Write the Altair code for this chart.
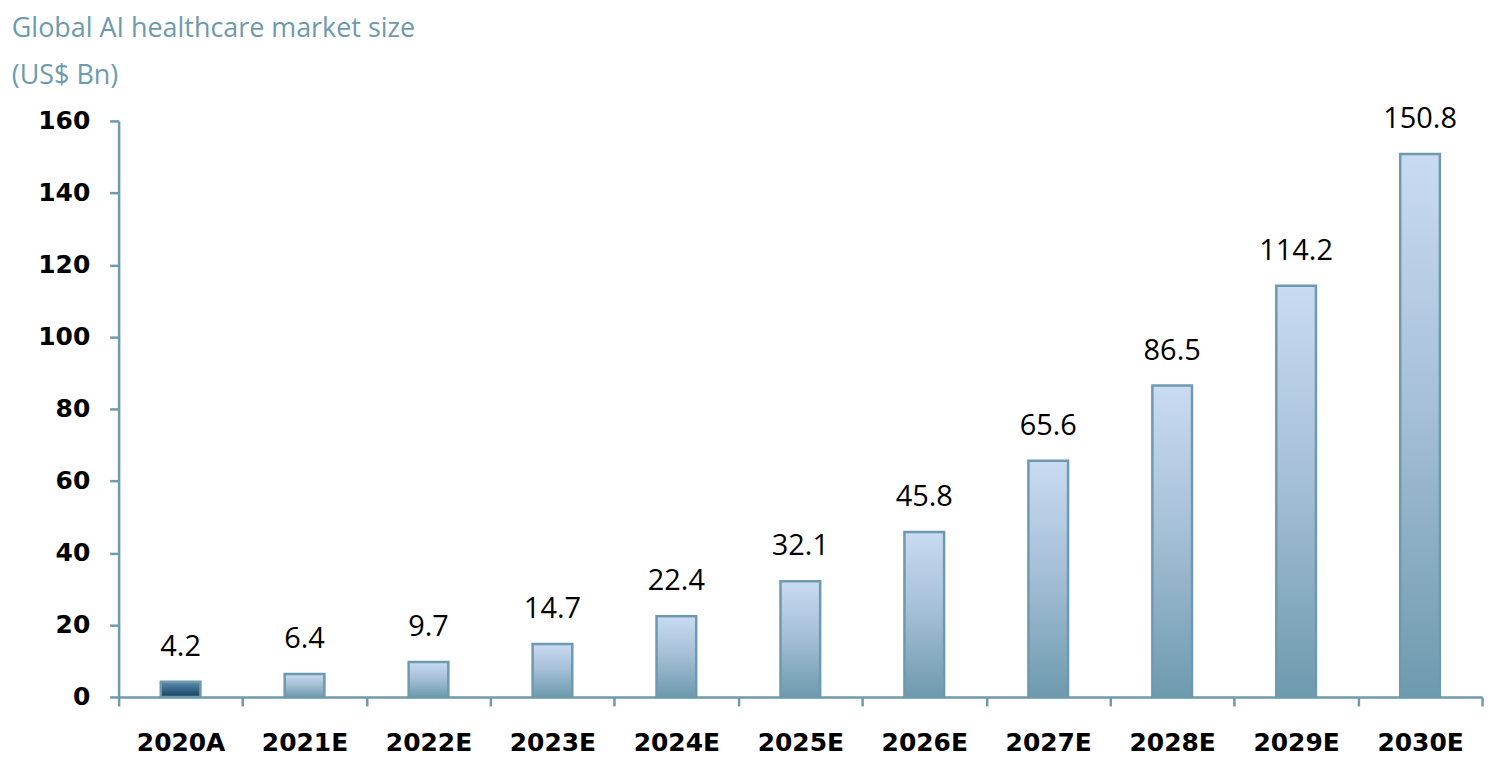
import altair as alt
import pandas as pd

years = ["2020A", "2021E", "2022E", "2023E", "2024E", "2025E",
         "2026E", "2027E", "2028E", "2029E", "2030E"]
values = [4.2, 6.4, 9.7, 14.7, 22.4, 32.1, 45.8, 65.6, 86.5, 114.2, 150.8]
kinds = ["actual"] + ["estimate"] * 10
labels = ["4.2", "6.4", "9.7", "14.7", "22.4", "32.1", "45.8", "65.6", "86.5", "114.2", "150.8"]

df = pd.DataFrame({"year": years, "value": values, "kind": kinds, "label": labels})

AXIS_COLOR = "#6e9aae"

x = alt.X("year:N", sort=years, title=None,
          scale=alt.Scale(paddingInner=0, paddingOuter=0),
          axis=alt.Axis(labelAngle=0, labelFont="DejaVu Sans", labelFontWeight="bold",
                        labelFontSize=25, labelColor="#000000", labelPadding=25,
                        domainColor=AXIS_COLOR, domainWidth=2.5,
                        tickColor=AXIS_COLOR, tickWidth=2.5, tickSize=9,
                        tickBand="extent"))
y = alt.Y("value:Q", title=None,
          scale=alt.Scale(domain=[0, 160], nice=False),
          axis=alt.Axis(values=list(range(0, 161, 20)), grid=False,
                        labelFont="DejaVu Sans", labelFontWeight="bold",
                        labelFontSize=25, labelColor="#000000", labelPadding=20,
                        domainColor=AXIS_COLOR, domainWidth=2.5,
                        tickColor=AXIS_COLOR, tickWidth=2.5, tickSize=9))

est_grad = alt.LinearGradient(gradient="linear", x1=0, y1=0, x2=0, y2=1,
                              stops=[alt.GradientStop(color="#c9dbf2", offset=0),
                                     alt.GradientStop(color="#a7c1d8", offset=0.45),
                                     alt.GradientStop(color="#6e9aae", offset=1)])
act_grad = alt.LinearGradient(gradient="linear", x1=0, y1=0, x2=0, y2=1,
                              stops=[alt.GradientStop(color="#5a8db0", offset=0),
                                     alt.GradientStop(color="#173f63", offset=1)])

base = alt.Chart(df).encode(x=x, y=y)

bars_est = base.transform_filter(alt.datum.kind == "estimate").mark_bar(
    width=alt.RelativeBandSize(0.32), fill=est_grad, stroke=AXIS_COLOR, strokeWidth=2.5)
bars_act = base.transform_filter(alt.datum.kind == "actual").mark_bar(
    width=alt.RelativeBandSize(0.32), fill=act_grad, stroke=AXIS_COLOR, strokeWidth=2.5)

text = base.mark_text(font="Open Sans", fontSize=29, color="#000000",
                      baseline="middle", dy=-35).encode(text="label:N")

chart = alt.layer(bars_est, bars_act, text).properties(
    width=1368, height=578,
    autosize=alt.AutoSizeParams(type="none"),
    padding={"left": 111, "top": 112, "right": 10, "bottom": 60},
    title=alt.TitleParams(text="Global AI healthcare market size",
                          subtitle="(US$ Bn)",
                          anchor="start", frame="bounds",
                          font="Open Sans", fontSize=27, fontWeight="normal",
                          color="#6d9aae",
                          subtitleFont="Open Sans", subtitleFontSize=27,
                          subtitleColor="#6d9aae", subtitlePadding=20,
                          offset=15, dx=-26)
).configure_view(stroke=None)

chart.save("out.html", embed_options={"renderer": "svg", "actions": False})
